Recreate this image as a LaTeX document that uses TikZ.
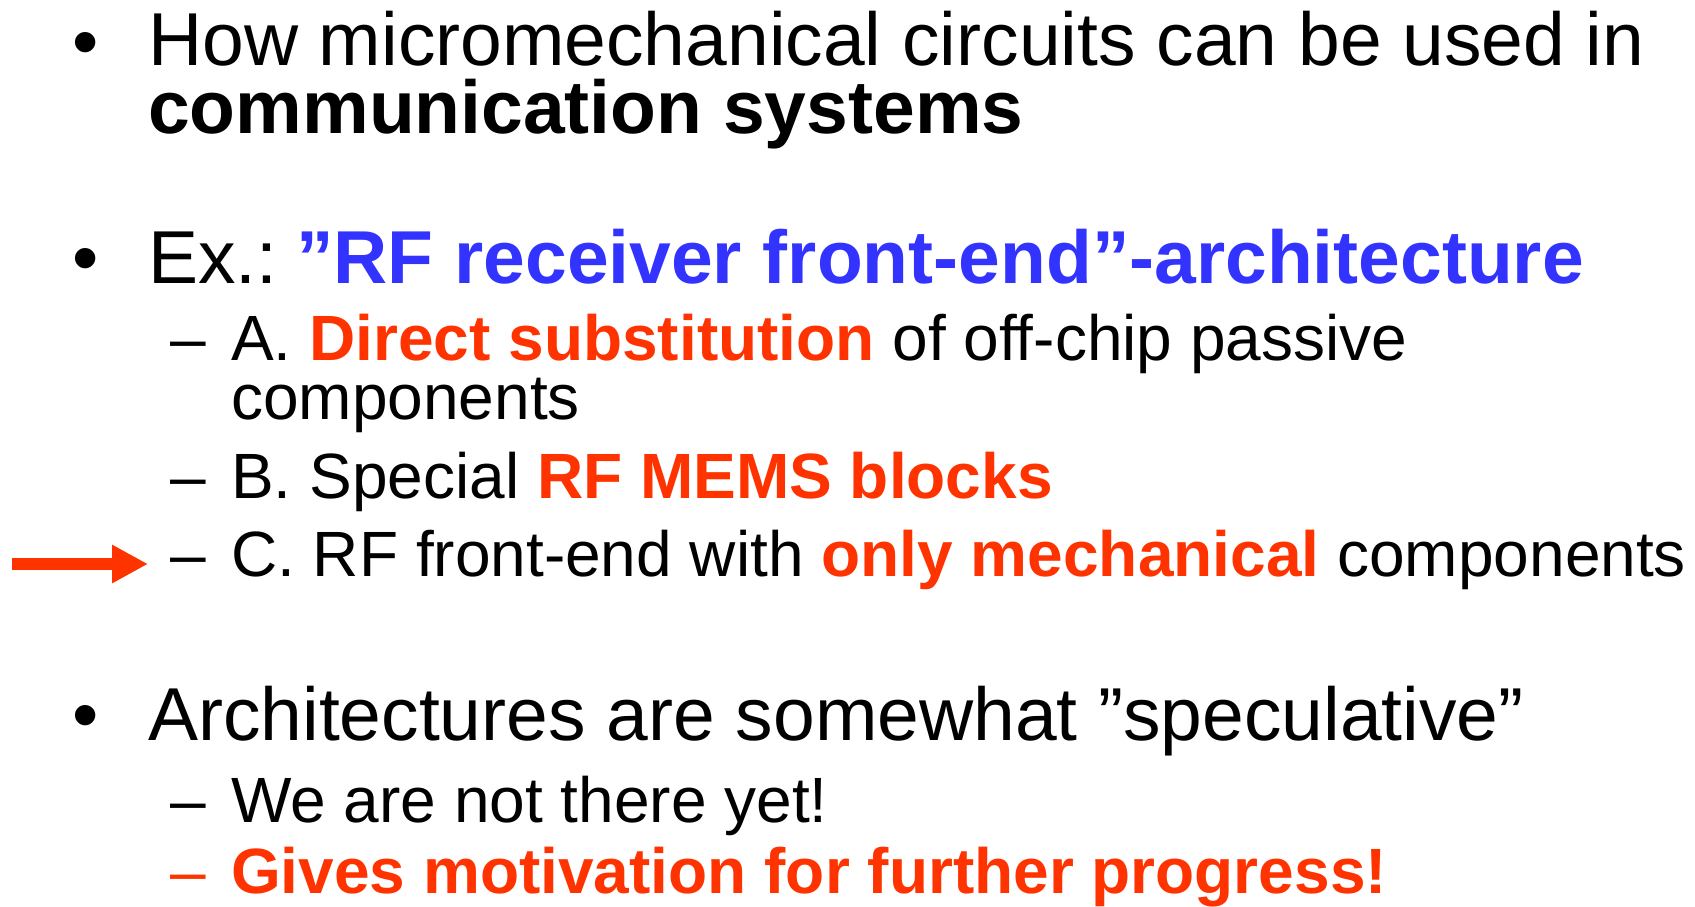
\documentclass[tikz,border=0pt]{standalone}
\usepackage{fontspec}
\setmainfont{Liberation Sans}
\usepackage{tikz}
\usetikzlibrary{arrows.meta}
\definecolor{hot}{RGB}{255,51,0}
\definecolor{cool}{RGB}{51,51,255}
\tikzset{big/.style={anchor=base west,inner sep=0pt,font=\fontsize{75}{75}\selectfont},
small/.style={anchor=base west,inner sep=0pt,font=\fontsize{64}{64}\selectfont}}
\begin{document}
\begin{tikzpicture}[x=1pt,y=-1pt]
\useasboundingbox (0,0) rectangle (1695,907);
\node[big] (B1) at (72,67) {\textbullet};
\node[big] (L1) at (148,66) {How micromechanical circuits can be used in};
\node[big] (L2) at (148,133) {\bfseries communication systems};

\node[big] (B2) at (72,283) {\textbullet};
\node[big] (L3) at (148,283) {Ex.:\hspace{-9pt} \textcolor{cool}{\bfseries ”RF receiver front-end”-architecture}};
\node[small] (DA) at (170,360) {–};
\node[small] (LA) at (231,360) {A. \textcolor{hot}{\bfseries Direct substitution} of off-chip passive};
\node[small] (LA2) at (231,419) {components};
\node[small] (DB) at (170,498) {–};
\node[small] (LB) at (231,498) {B. Special \textcolor{hot}{\bfseries RF MEMS blocks}};
\node[small] (DC) at (170,576) {–};
\node[small] (LC) at (231,576) {C. RF front-end with \textcolor{hot}{\bfseries only mechanical} components};

\node[big] (B3) at (72,740) {\textbullet};
\node[big] (L4) at (148,740) {Architectures are somewhat ”speculative”};
\node[small] (DD) at (170,822) {–};
\node[small] (LD) at (231,822) {We are not there yet!};
\node[small,text=hot] (DE) at (170,893) {–};
\node[small,text=hot] (LE) at (231,893) {\bfseries Gives motivation for further progress!};

% arrow pointing at C
\coordinate (S) at (12,564);
\draw[hot,line width=12pt,-{Triangle[length=36pt,width=36pt]}] (S) -- ([xshift=-22pt]DC.west |- S);
\end{tikzpicture}
\end{document}
